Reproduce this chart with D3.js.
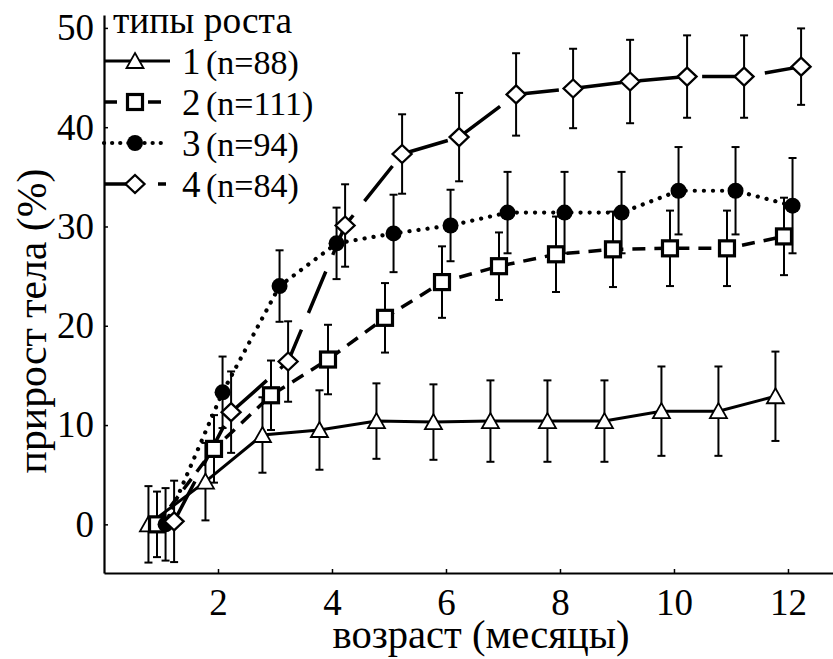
<!DOCTYPE html>
<html><head><meta charset="utf-8">
<script src="https://cdn.jsdelivr.net/npm/d3@7"></script>
<style>
body{margin:0;background:#fff;}
</style></head>
<body><svg id="c" width="833" height="659"></svg>
<script>
const months = [1,2,3,4,5,6,7,8,9,10,11,12];
const seriesIds = ["1","2","3","4"];
const seriesN = [88,111,94,84];
const legendTitle = "типы роста";
const xTicks = [2,4,6,8,10,12];
const yTicks = [0,10,20,30,40,50];
const xLabel = "возраст (месяцы)";
const yLabel = "прирост тела (%)";

const s1 = [0, 4.3, 9.0, 9.5, 10.4, 10.3, 10.4, 10.4, 10.4, 11.4, 11.4, 12.9];
const e1 = [3.85, 3.9, 3.8, 4.0, 3.8, 3.8, 4.1, 4.1, 4.1, 4.5, 4.5, 4.5];
const s2 = [0, 7.6, 13.0, 16.6, 20.8, 24.4, 26.0, 27.2, 27.7, 27.8, 27.8, 29.0];
const e2 = [3.3, 3.4, 3.5, 3.5, 3.5, 3.6, 3.4, 3.8, 3.8, 3.8, 3.8, 3.9];
const s3 = [0, 13.3, 24.0, 28.3, 29.3, 30.1, 31.4, 31.4, 31.4, 33.6, 33.6, 32.1];
const e3 = [3.65, 3.6, 3.6, 3.6, 3.9, 3.6, 4.1, 4.1, 4.1, 4.4, 4.4, 4.8];
const s4 = [0.3, 11.3, 16.4, 30.1, 37.3, 39.0, 43.3, 43.9, 44.6, 45.1, 45.1, 46.1];
const e4 = [4.1, 4.1, 4.05, 4.15, 4.0, 4.45, 4.15, 4.0, 4.2, 4.15, 4.15, 3.85];

const values = [s1,s2,s3,s4];
const errors = [e1,e2,e3,e4];

const svg = d3.select("#c");
const L = 104, R = 833, T = 15, B = 573;
const x = d3.scaleLinear().domain([0, 12.79]).range([L, R]);
const y = d3.scaleLinear().domain([-4.9, 51.3]).range([B, T]);
const dodge = d3.scalePoint().domain(seriesIds).range([-0.22, 0.23]);

const styles = [
  {dash:null, width:3, cap:"butt"},
  {dash:"13,9", width:3.5, cap:"butt"},
  {dash:"0.1,9", width:4.2, cap:"round"},
  {dash:"45,18", width:3.5, cap:"butt"}
];
const legendDash = [null, "13,9", "0.1,8", "32,22,8"];

const data = seriesIds.map((id,i)=>({
  id, i,
  pts: months.map((m,j)=>({x:m+dodge(id), y:values[i][j], e:errors[i][j]}))
}));

const FF = '"Liberation Serif","DejaVu Serif Condensed","DejaVu Serif",serif';
const fs = 37;
const ax = svg.append("g").attr("transform",`translate(0,${B})`)
  .call(d3.axisBottom(x).tickValues(xTicks).tickFormat(d3.format("d")).tickSizeInner(-4).tickSizeOuter(0).tickPadding(16));
const ay = svg.append("g").attr("transform",`translate(${L},0)`)
  .call(d3.axisLeft(y).tickValues(yTicks).tickFormat(d3.format("d")).tickSizeInner(-4).tickSizeOuter(0).tickPadding(10));
[ax,ay].forEach(g=>{
  g.attr("font-size",fs);
  g.select(".domain").attr("stroke","#000").attr("stroke-width",2.2);
  g.selectAll(".tick line").attr("stroke","#000").attr("stroke-width",1.5);
  g.selectAll(".tick text").attr("fill","#000").style("font-family",FF);
});

// fit a text to a target width by adjusting font size
function fitText(sel, base, target, maxSize){
  sel.attr("font-size", base);
  const w = sel.node().getComputedTextLength();
  if (w > 0) sel.attr("font-size", Math.min(maxSize, base*target/w));
  return sel;
}

fitText(svg.append("text").attr("x",481).attr("y",648).attr("text-anchor","middle").style("font-family",FF).text(xLabel), 34, 297, 42);
fitText(svg.append("text").attr("transform","translate(46,321) rotate(-90)").attr("text-anchor","middle").style("font-family",FF).text(yLabel), 34, 305, 42);

const line = d3.line().x(d=>x(d.x)).y(d=>y(d.y));
data.forEach(s=>{
  const st = styles[s.i];
  svg.append("path").datum(s.pts).attr("d",line).attr("fill","none")
    .attr("stroke","#000").attr("stroke-width",st.width)
    .attr("stroke-dasharray",st.dash).attr("stroke-linecap",st.cap);
});

data.forEach(s=>{
  const g = svg.append("g").attr("stroke","#000").attr("stroke-width",2);
  s.pts.forEach(p=>{
    const cx = x(p.x), y1 = y(p.y+p.e), y2 = y(p.y-p.e);
    g.append("line").attr("x1",cx).attr("x2",cx).attr("y1",y1).attr("y2",y2);
    g.append("line").attr("x1",cx-4).attr("x2",cx+4).attr("y1",y1).attr("y2",y1);
    g.append("line").attr("x1",cx-4).attr("x2",cx+4).attr("y1",y2).attr("y2",y2);
  });
});

function marker(g, i, cx, cy){
  if(i===0){
    g.append("path").attr("d",`M${cx},${cy-8}L${cx+8.5},${cy+7}L${cx-8.5},${cy+7}Z`)
      .attr("fill","#fff").attr("stroke","#000").attr("stroke-width",1.8);
  } else if(i===1){
    g.append("rect").attr("x",cx-7.5).attr("y",cy-7.5).attr("width",15).attr("height",15)
      .attr("fill","#fff").attr("stroke","#000").attr("stroke-width",3.2);
  } else if(i===2){
    g.append("circle").attr("cx",cx).attr("cy",cy).attr("r",8).attr("fill","#000");
  } else {
    g.append("path").attr("d",`M${cx},${cy-9}L${cx+9.5},${cy}L${cx},${cy+9}L${cx-9.5},${cy}Z`)
      .attr("fill","#fff").attr("stroke","#000").attr("stroke-width",2.3);
  }
}
data.forEach(s=>{
  const g = svg.append("g");
  s.pts.forEach(p=>marker(g, s.i, x(p.x), y(p.y)));
});

const lg = svg.append("g");
fitText(lg.append("text").attr("x",113).attr("y",33).style("font-family",FF).text(legendTitle), 33, 179, 40);
const ly = d3.scalePoint().domain(seriesIds).range([61, 184]);
seriesIds.forEach((id,i)=>{
  const cy = ly(id);
  const st = styles[i];
  const x2 = i===0 ? 170 : (i===3 ? 166 : 161);
  lg.append("line").attr("x1",L).attr("x2",x2).attr("y1",cy).attr("y2",cy)
    .attr("stroke","#000").attr("stroke-width",st.width).attr("stroke-dasharray",legendDash[i]).attr("stroke-linecap",st.cap);
  marker(lg, i, 135, cy);
  lg.append("text").attr("x",182).attr("y",cy+13).attr("font-size",fs).style("font-family",FF).text(id);
  lg.append("text").attr("x",206).attr("y",cy+13).attr("font-size",34).style("font-family",FF).text(`(n=${seriesN[i]})`);
});
</script></body></html>
